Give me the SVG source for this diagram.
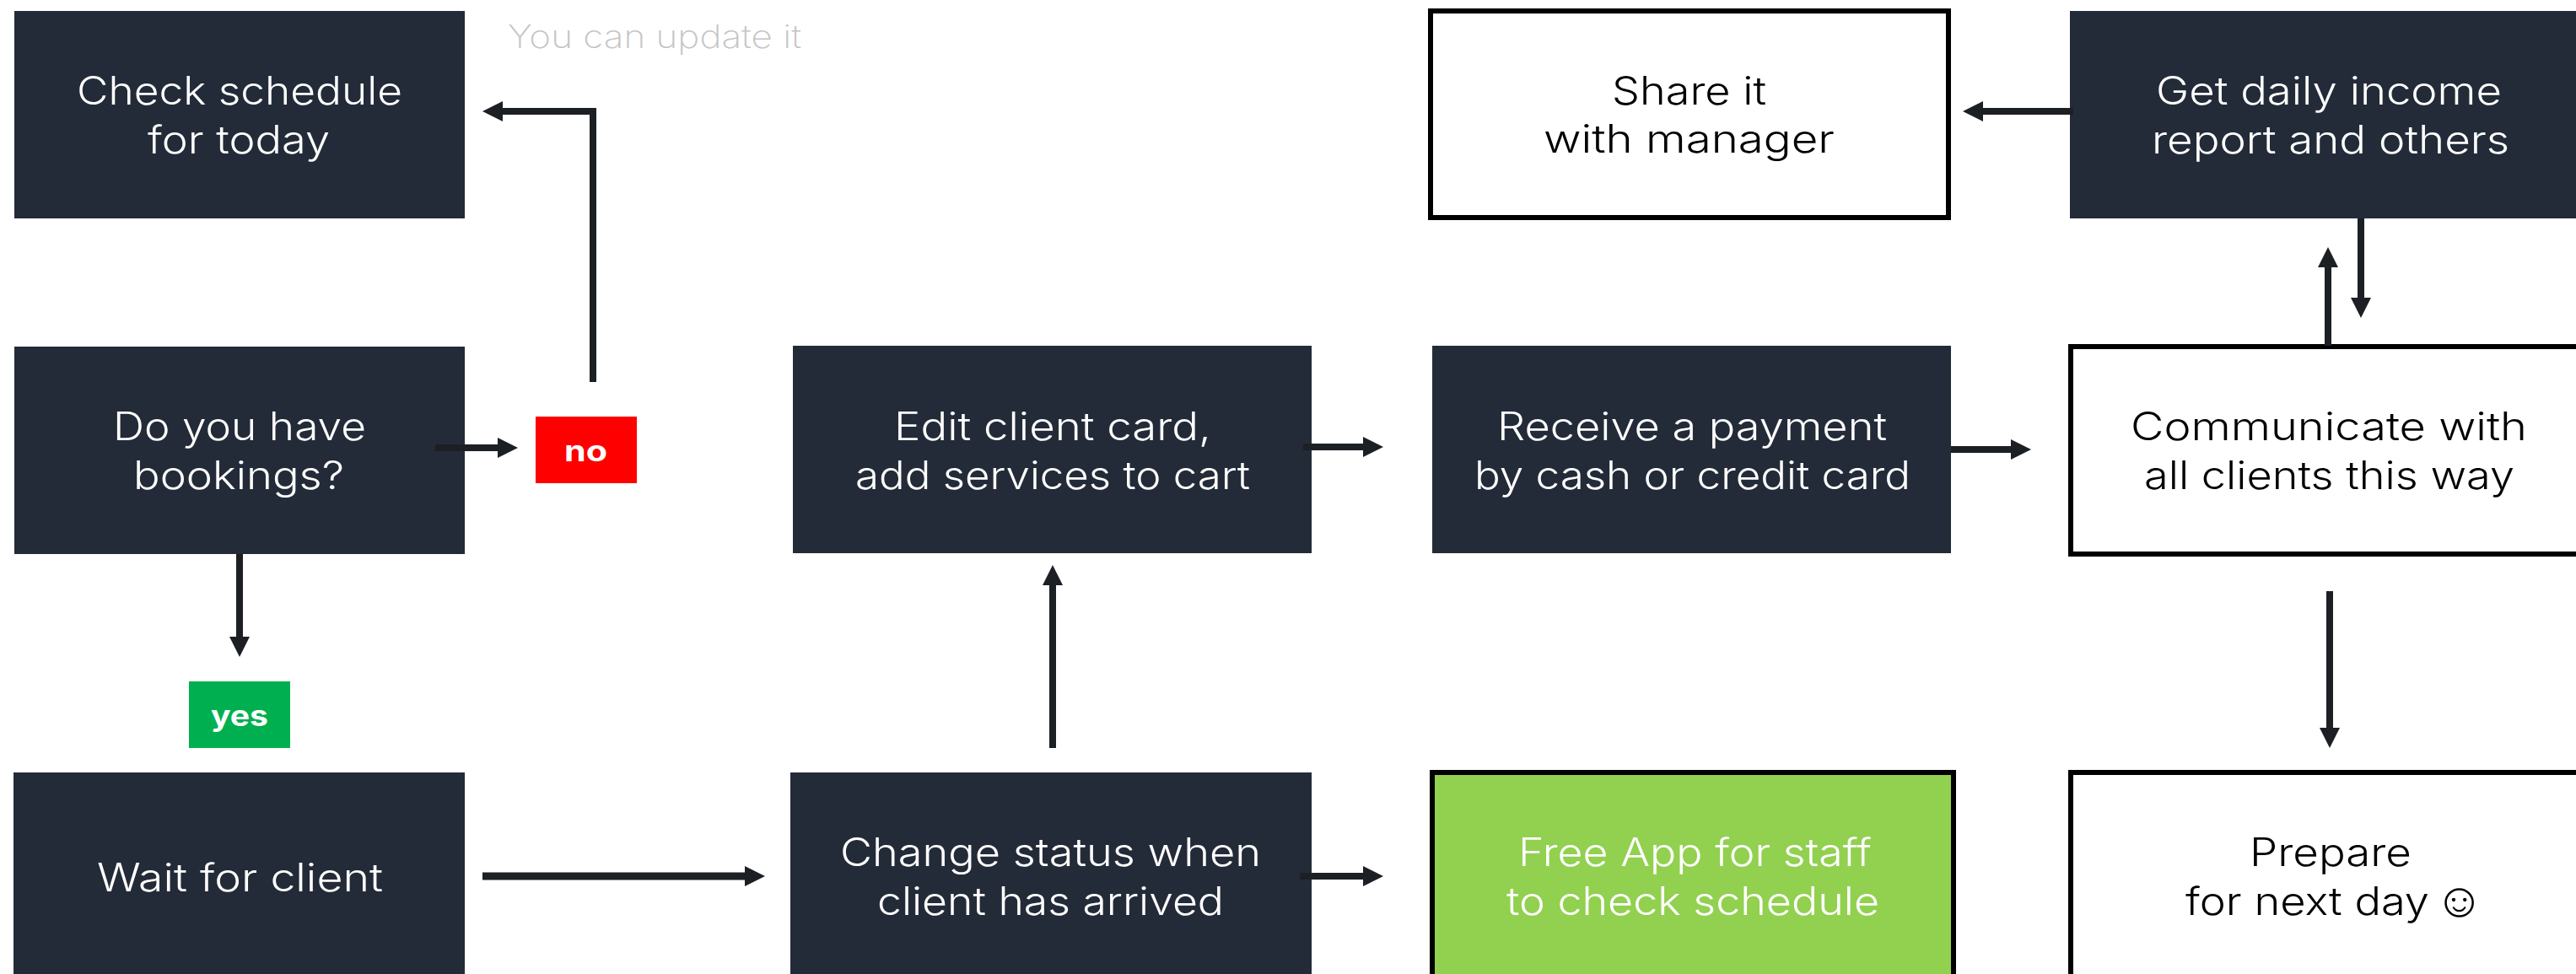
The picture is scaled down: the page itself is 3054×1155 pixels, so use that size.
<svg xmlns="http://www.w3.org/2000/svg" width="3054" height="1155" viewBox="0 0 3054 1155">
<style>
text{font-family:"Inter","Open Sans","Liberation Sans",sans-serif;font-size:46px;font-weight:300;letter-spacing:0}
.d{fill:#242b38}
.w{fill:#fff;stroke:#000;stroke-width:6}
.lt{fill:#fff}
.dk{fill:#000}
.b{font-size:34px;font-weight:700;fill:#fff}
.c{fill:none;stroke:#1c1f24;stroke-width:8;marker-end:url(#h)}
</style>
<defs><marker id="h" markerUnits="userSpaceOnUse" markerWidth="24" markerHeight="24" refX="0" refY="12" orient="auto"><path d="M0 0L24 12L0 24z" fill="#1c1f24"/></marker></defs>
<rect width="3054" height="1155" fill="#fff"/>
<g id="note"><text x="602" y="57" style="font-size:38px;font-weight:200" fill="#c4c4c4" textLength="348" lengthAdjust="spacingAndGlyphs">You can update it</text></g>
<g id="n1"><rect class="d" x="17" y="13" width="534" height="246"/><text class="lt" x="91" y="124" textLength="386" lengthAdjust="spacingAndGlyphs">Check schedule</text><text class="lt" x="175" y="182" textLength="216" lengthAdjust="spacingAndGlyphs">for today</text></g>
<g id="n2"><rect class="d" x="17" y="411" width="534" height="246"/><text class="lt" x="134" y="522" textLength="300" lengthAdjust="spacingAndGlyphs">Do you have</text><text class="lt" x="158" y="580" textLength="250" lengthAdjust="spacingAndGlyphs">bookings?</text></g>
<g id="no"><rect x="635" y="494" width="120" height="79" fill="#f00"/><text class="b" x="669" y="547" textLength="51" lengthAdjust="spacingAndGlyphs">no</text></g>
<g id="yes"><rect x="224" y="808" width="120" height="79" fill="#00b050"/><text class="b" x="250" y="861" textLength="68" lengthAdjust="spacingAndGlyphs">yes</text></g>
<g id="n3"><rect class="d" x="16" y="916" width="535" height="239"/><text class="lt" x="115" y="1057" textLength="339" lengthAdjust="spacingAndGlyphs">Wait for client</text></g>
<g id="n4"><rect class="d" x="937" y="916" width="618" height="239"/><text class="lt" x="996" y="1027" textLength="499" lengthAdjust="spacingAndGlyphs">Change status when</text><text class="lt" x="1040" y="1085" textLength="411" lengthAdjust="spacingAndGlyphs">client has arrived</text></g>
<g id="n5"><rect class="d" x="940" y="410" width="615" height="246"/><text class="lt" x="1060" y="522" textLength="376" lengthAdjust="spacingAndGlyphs">Edit client card,</text><text class="lt" x="1014" y="580" textLength="468" lengthAdjust="spacingAndGlyphs">add services to cart</text></g>
<g id="n6"><rect class="d" x="1698" y="410" width="615" height="246"/><text class="lt" x="1775" y="522" textLength="462" lengthAdjust="spacingAndGlyphs">Receive a payment</text><text class="lt" x="1748" y="580" textLength="517" lengthAdjust="spacingAndGlyphs">by cash or credit card</text></g>
<g id="n7"><rect class="w" x="1696" y="13" width="614" height="245"/><text class="dk" x="1911" y="124" textLength="183" lengthAdjust="spacingAndGlyphs">Share it</text><text class="dk" x="1830" y="181" textLength="345" lengthAdjust="spacingAndGlyphs">with manager</text></g>
<g id="n8"><rect class="d" x="2454" y="13" width="600" height="246"/><text class="lt" x="2556" y="124" textLength="410" lengthAdjust="spacingAndGlyphs">Get daily income</text><text class="lt" x="2551" y="182" textLength="424" lengthAdjust="spacingAndGlyphs">report and others</text></g>
<g id="n9"><rect class="w" x="2455" y="411" width="610" height="246"/><text class="dk" x="2526" y="522" textLength="470" lengthAdjust="spacingAndGlyphs">Communicate with</text><text class="dk" x="2542" y="580" textLength="439" lengthAdjust="spacingAndGlyphs">all clients this way</text></g>
<g id="n10"><rect x="1698" y="916" width="618" height="250" fill="#92d050" stroke="#000" stroke-width="6"/><text class="lt" x="1800" y="1027" textLength="419" lengthAdjust="spacingAndGlyphs">Free App for staff</text><text class="lt" x="1786" y="1085" textLength="442" lengthAdjust="spacingAndGlyphs">to check schedule</text></g>
<g id="n11"><rect class="w" x="2455" y="916" width="610" height="250"/><text class="dk" x="2667" y="1027" textLength="192" lengthAdjust="spacingAndGlyphs">Prepare</text><text class="dk" y="1085"><tspan x="2591" textLength="289" lengthAdjust="spacingAndGlyphs">for next day</tspan> <tspan x="2886" y="1087" style="font-family:'DejaVu Sans',sans-serif;font-size:58px">☺</tspan></text></g>
<g id="connectors">
<path class="c" d="M703 453V132H596"/>
<path class="c" d="M516 531H590"/>
<path class="c" d="M284 657V755"/>
<path class="c" style="stroke-width:9" d="M572 1039H883"/>
<path class="c" d="M1248 887V694"/>
<path class="c" d="M1545 530H1616"/>
<path class="c" d="M2313 533H2384"/>
<path class="c" d="M2458 132H2351"/>
<path class="c" d="M2760 410V317"/>
<path class="c" d="M2799 259V353"/>
<path class="c" d="M2762 701V863"/>
<path class="c" d="M1541 1039H1616"/>
</g>
</svg>
